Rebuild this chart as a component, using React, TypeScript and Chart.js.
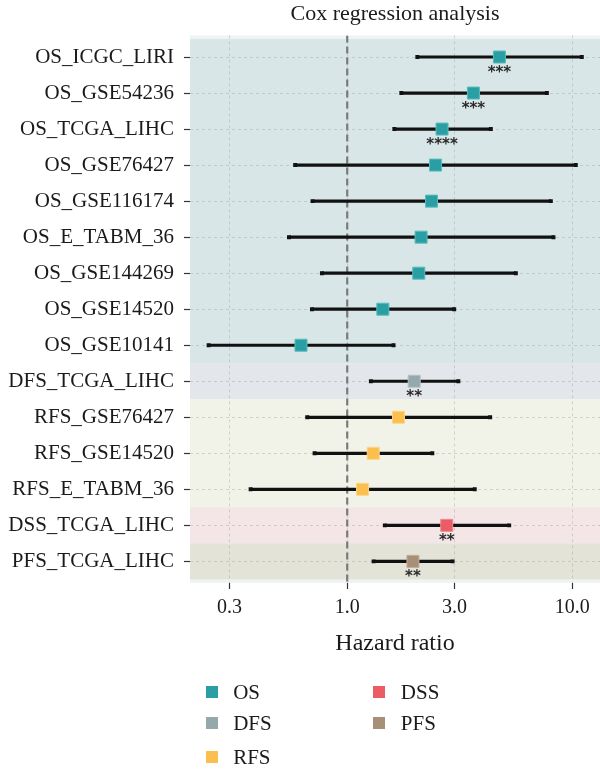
import React, { useEffect, useRef } from "react";
import { Chart, registerables } from "chart.js";

Chart.register(...registerables);

const categories = [
  "OS_ICGC_LIRI", "OS_GSE54236", "OS_TCGA_LIHC", "OS_GSE76427", "OS_GSE116174",
  "OS_E_TABM_36", "OS_GSE144269", "OS_GSE14520", "OS_GSE10141", "DFS_TCGA_LIHC",
  "RFS_GSE76427", "RFS_GSE14520", "RFS_E_TABM_36", "DSS_TCGA_LIHC", "PFS_TCGA_LIHC",
];
const groups = ["OS", "OS", "OS", "OS", "OS", "OS", "OS", "OS", "OS", "DFS", "RFS", "RFS", "RFS", "DSS", "PFS"];
const hazardRatio = [4.75, 3.64, 2.64, 2.47, 2.37, 2.13, 2.08, 1.44, 0.623, 1.985, 1.69, 1.305, 1.17, 2.77, 1.96];
const lowerCI = [2.05, 1.74, 1.62, 0.587, 0.701, 0.551, 0.772, 0.697, 0.242, 1.274, 0.664, 0.716, 0.372, 1.47, 1.31];
const upperCI = [11.04, 7.72, 4.35, 10.38, 8.04, 8.26, 5.62, 2.99, 1.607, 3.12, 4.32, 2.39, 3.69, 5.25, 2.94];
const stars = ["***", "***", "****", "", "", "", "", "", "", "**", "", "", "", "**", "**"];
const xTicks = [0.3, 1, 3, 10];

const groupNames = ["OS", "DFS", "RFS", "DSS", "PFS"];
const groupColors: Record<string, string> = {
  OS: "#2a9fa3",
  DFS: "#95a8ab",
  RFS: "#fbbf4f",
  DSS: "#eb5c64",
  PFS: "#a89078",
};
const groupBorders: Record<string, string> = {
  OS: "#5bbcbe",
  DFS: "#b3c2c4",
  RFS: "#fdd585",
  DSS: "#f28a90",
  PFS: "#c2ae9a",
};
const bandColors: Record<string, string> = {
  OS: "#d8e6e7",
  DFS: "#e3e7ec",
  RFS: "#f2f3e8",
  DSS: "#f4e6e7",
  PFS: "#e3e3d8",
};

const serif = "'Liberation Serif', 'Times New Roman', serif";

const bandsPlugin = {
  id: "bands",
  beforeDraw(chart: any) {
    const { ctx, chartArea, scales } = chart;
    const y = scales.y;
    ctx.save();
    ctx.fillStyle = "#eef3f3";
    ctx.fillRect(chartArea.left, chartArea.top, chartArea.right - chartArea.left, chartArea.bottom - chartArea.top);
    let start = 0;
    for (let i = 1; i <= groups.length; i++) {
      if (i === groups.length || groups[i] !== groups[start]) {
        const top = y.getPixelForValue(start - 0.5);
        const bottom = y.getPixelForValue(i - 0.5);
        ctx.fillStyle = bandColors[groups[start]];
        ctx.fillRect(chartArea.left, top, chartArea.right - chartArea.left, bottom - top);
        start = i;
      }
    }
    ctx.restore();
  },
};

const starsPlugin = {
  id: "stars",
  afterDatasetsDraw(chart: any) {
    const { ctx, scales } = chart;
    ctx.save();
    ctx.fillStyle = "#2a2a2a";
    ctx.font = "bold 15px 'DejaVu Sans', sans-serif";
    ctx.textAlign = "center";
    ctx.textBaseline = "alphabetic";
    stars.forEach((s, i) => {
      if (!s) return;
      const px = scales.x.getPixelForValue(hazardRatio[i]);
      const py = scales.y.getPixelForValue(i);
      ctx.fillText(s, px, py + 20);
    });
    ctx.restore();
  },
};

export default function App() {
  const canvasRef = useRef<HTMLCanvasElement | null>(null);

  useEffect(() => {
    document.body.style.margin = "0";
    const canvas = canvasRef.current;
    if (!canvas) return;

    const markerSets = groupNames.map((g) => ({
      type: "scatter" as const,
      label: g,
      order: 0,
      data: hazardRatio
        .map((v, i) => ({ x: v, y: i, g: groups[i] }))
        .filter((d) => d.g === g)
        .map((d) => ({ x: d.x, y: d.y })),
      pointStyle: "rect",
      pointRadius: 8.5,
      pointHoverRadius: 8.5,
      backgroundColor: groupColors[g],
      borderColor: groupBorders[g],
      borderWidth: 1,
    }));

    const barSets = categories.map((c, i) => ({
      type: "line" as const,
      label: c,
      order: 1,
      data: [
        { x: lowerCI[i], y: i },
        { x: upperCI[i], y: i },
      ],
      borderColor: "#111111",
      borderWidth: 3.2,
      pointStyle: "rect",
      pointRadius: 2.8,
      pointBackgroundColor: "#111111",
      pointBorderWidth: 0,
      showLine: true,
    }));

    const refLine = {
      type: "line" as const,
      label: "ref",
      order: 2,
      data: [
        { x: 1, y: -0.6 },
        { x: 1, y: 14.6 },
      ],
      borderColor: "#7a7a7a",
      borderWidth: 2.2,
      borderDash: [7, 4],
      pointRadius: 0,
    };

    const zeroPad = (s: any) => {
      s.paddingLeft = 0;
      s.paddingRight = 0;
    };

    const chart = new Chart(canvas, {
      type: "scatter",
      data: { datasets: [...markerSets, ...barSets, refLine] as any },
      options: {
        animation: false,
        responsive: false,
        maintainAspectRatio: false,
        layout: { autoPadding: false, padding: { left: 0, right: 0, top: 0, bottom: 111.6 } },
        plugins: {
          legend: { display: false },
          tooltip: { enabled: false },
          title: { display: false },
        },
        scales: {
          x: {
            type: "logarithmic",
            position: "bottom",
            min: 0.2,
            max: 13.3,
            afterBuildTicks: (s: any) => {
              s.ticks = xTicks.map((v) => ({ value: v }));
            },
            afterFit: (s: any) => {
              s.height = 75.4;
              zeroPad(s);
            },
            ticks: {
              autoSkip: false,
              maxRotation: 0,
              padding: 7,
              color: "#1a1a1a",
              font: { family: serif, size: 20 },
              callback: (v: any) => Number(v).toFixed(1),
            },
            grid: {
              color: "rgba(160,165,165,0.55)",
              lineWidth: 0.8,
              tickColor: "#333333",
              tickLength: 6,
              tickWidth: 1.2,
              tickBorderDash: [],
            },
            border: { display: false, dash: [3, 3] },
            title: {
              display: true,
              text: "Hazard ratio",
              color: "#1a1a1a",
              font: { family: serif, size: 24 },
              padding: { top: 0, bottom: 0 },
            },
          },
          xTop: {
            type: "linear",
            position: "top",
            display: true,
            grid: { display: false, drawTicks: false },
            ticks: { display: false },
            border: { display: false },
            afterFit: (s: any) => {
              s.height = 35.4;
              zeroPad(s);
            },
            title: {
              display: true,
              text: "Cox regression analysis",
              color: "#1a1a1a",
              font: { family: serif, size: 22 },
              padding: { top: 1, bottom: 0 },
            },
          },
          y: {
            type: "linear",
            reverse: true,
            min: -0.6,
            max: 14.6,
            afterBuildTicks: (s: any) => {
              s.ticks = categories.map((_, i) => ({ value: i }));
            },
            afterFit: (s: any) => {
              s.width = 190;
              s.paddingTop = 0;
              s.paddingBottom = 0;
            },
            ticks: {
              autoSkip: false,
              padding: 10,
              color: "#1a1a1a",
              font: { family: serif, size: 21 },
              callback: (v: any) => categories[Math.round(Number(v))] ?? "",
            },
            grid: {
              color: "rgba(160,165,165,0.55)",
              lineWidth: 0.8,
              tickColor: "#333333",
              tickLength: 6,
              tickWidth: 1.2,
              tickBorderDash: [],
            },
            border: { display: false, dash: [3, 3] },
          },
        },
      } as any,
      plugins: [bandsPlugin, starsPlugin],
    });

    return () => chart.destroy();
  }, []);

  const legendItems = [
    { g: "OS", x: 211.7, y: 692.3 },
    { g: "DFS", x: 211.7, y: 723.3 },
    { g: "RFS", x: 211.7, y: 756.7 },
    { g: "DSS", x: 379.3, y: 692.3 },
    { g: "PFS", x: 379.3, y: 723.3 },
  ];

  return (
    <div style={{ position: "relative", width: 600, height: 770 }}>
      <canvas ref={canvasRef} width={600} height={770} style={{ display: "block", width: 600, height: 770 }} />
      {legendItems.map((it) => (
        <div key={it.g}>
          <div
            style={{
              position: "absolute",
              left: it.x - 6,
              top: it.y - 6,
              width: 12,
              height: 12,
              background: groupColors[it.g],
            }}
          />
          <div
            style={{
              position: "absolute",
              left: it.x + 21.5,
              top: it.y - 14,
              height: 28,
              lineHeight: "28px",
              fontFamily: serif,
              fontSize: 21,
              color: "#1a1a1a",
              whiteSpace: "nowrap",
            }}
          >
            {it.g}
          </div>
        </div>
      ))}
    </div>
  );
}
